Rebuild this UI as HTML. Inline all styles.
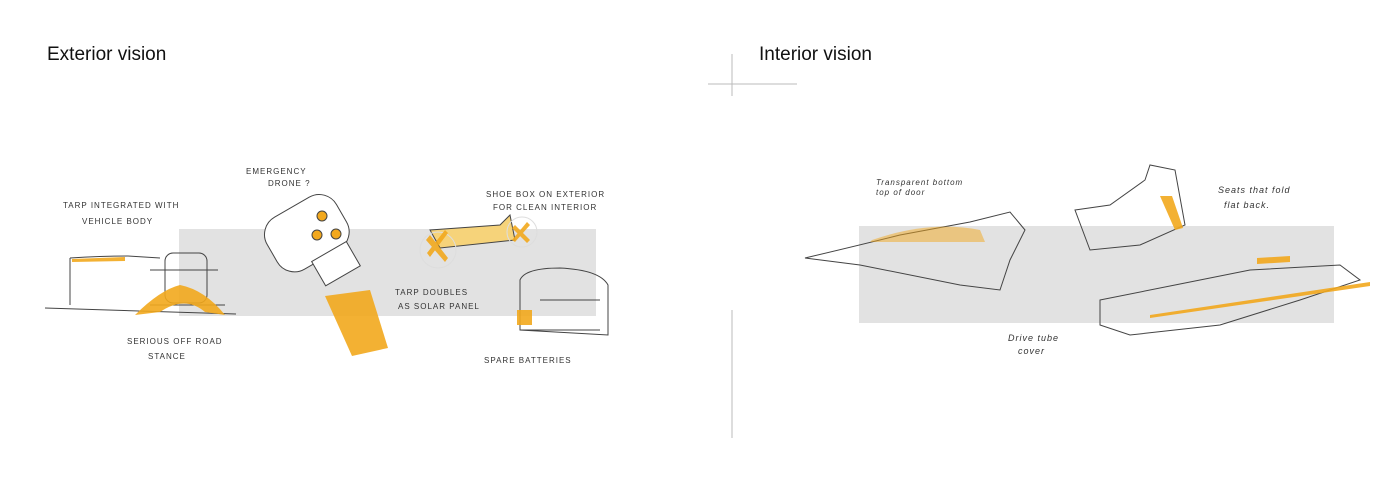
<!DOCTYPE html>
<html><head><meta charset="utf-8"><style>
html,body{margin:0;padding:0;background:#fff}
body{width:1400px;height:495px;position:relative;overflow:hidden;font-family:"Liberation Sans",sans-serif}
.t{position:absolute;font-size:19px;color:#111}
</style></head><body>
<div class="t" style="left:47px;top:44px">Exterior vision</div>
<div class="t" style="left:759px;top:44px">Interior vision</div>
<svg width="1400" height="495" style="position:absolute;left:0;top:0" font-family="Liberation Sans, sans-serif">
<rect x="179" y="229" width="417" height="87" fill="#e2e2e2"/>
<rect x="859" y="226" width="475" height="97" fill="#e2e2e2"/>
<line x1="708" y1="84" x2="797" y2="84" stroke="#bbb"/>
<line x1="732" y1="54" x2="732" y2="96" stroke="#bbb"/>
<line x1="732" y1="310" x2="732" y2="438" stroke="#bbb"/>
<g stroke="#444" fill="none" stroke-width="1">
<path d="M45 308 L236 314"/><path d="M70 258 L70 305"/>
<path d="M70 258 Q100 256 128 256 L160 258"/>
<rect x="165" y="253" width="42" height="50" rx="8"/>
<path d="M150 270 L218 270 M150 305 L225 305"/>
<g transform="rotate(-30 305 240)">
<rect x="270" y="205" width="80" height="60" rx="20" fill="#fff"/>
<rect x="300" y="262" width="40" height="28" fill="#fff"/>
</g>
<circle cx="317" cy="235" r="5" fill="#f2a81d"/><circle cx="322" cy="216" r="5" fill="#f2a81d"/><circle cx="336" cy="234" r="5" fill="#f2a81d"/>
<path d="M430 230 L500 225 L510 215 L515 240 L440 248 Z" fill="#f6d37a"/>
<circle cx="438" cy="250" r="18" stroke="#ddd"/><circle cx="522" cy="232" r="15" stroke="#ddd"/>
<path d="M520 300 L520 280 Q525 268 560 268 Q600 270 608 285 L608 335 L520 330 Z"/>
<path d="M520 330 L600 330 M540 300 L600 300"/>
<path d="M805 258 Q860 245 900 235 L970 222 L1010 212 L1025 230 L1010 260 L1000 290 L960 285 L860 265 Z"/>
<path d="M1075 210 L1110 205 L1145 180 L1150 165 L1175 170 L1185 225 L1140 245 L1090 250 Z"/>
<path d="M1100 300 L1175 285 L1250 270 L1340 265 L1360 280 L1300 300 L1220 325 L1130 335 L1100 325 Z"/>
</g>
<g fill="#f2a81d" opacity="0.9">
<path d="M72 259 L125 257 L125 261 L72 262 Z"/>
<path d="M135 315 Q160 290 180 285 Q205 290 225 315 L205 312 Q185 295 160 312 Z"/>
<path d="M325 296 L370 290 L388 348 L352 356 Z"/>
<path d="M430 235 L448 258 L445 262 L426 240 Z M448 233 L430 257 L427 253 L445 230 Z"/>
<path d="M515 225 L530 240 L527 243 L512 228 Z M530 225 L515 242 L512 240 L527 222 Z"/>
<rect x="517" y="310" width="15" height="15"/>
<path d="M1160 196 L1172 196 L1183 228 L1175 230 Z"/>
<path d="M1150 315 L1370 282 L1370 286 L1150 318 Z"/>
<path d="M1257 258 L1290 256 L1290 262 L1257 264 Z"/>
</g>
<path d="M872 240 Q930 220 980 230 L985 242 L870 242 Z" fill="#f2a81d" opacity="0.5"/>
<g font-size="8" fill="#333" letter-spacing="1">
<text x="246" y="174">EMERGENCY</text><text x="268" y="186">DRONE ?</text>
<text x="63" y="208">TARP INTEGRATED WITH</text><text x="82" y="224">VEHICLE BODY</text>
<text x="486" y="197">SHOE BOX ON EXTERIOR</text><text x="493" y="210">FOR CLEAN INTERIOR</text>
<text x="395" y="295">TARP DOUBLES</text><text x="398" y="309">AS SOLAR PANEL</text>
<text x="127" y="344">SERIOUS OFF ROAD</text><text x="148" y="359">STANCE</text>
<text x="484" y="363">SPARE BATTERIES</text>
<text x="876" y="185" font-style="italic">Transparent bottom</text><text x="876" y="195" font-style="italic">top of door</text>
<text x="1218" y="193" font-style="italic" font-size="9">Seats that fold</text><text x="1224" y="208" font-style="italic" font-size="9">flat back.</text>
<text x="1008" y="341" font-style="italic" font-size="9">Drive tube</text><text x="1018" y="354" font-style="italic" font-size="9">cover</text>
</g>
</svg>
</body></html>
